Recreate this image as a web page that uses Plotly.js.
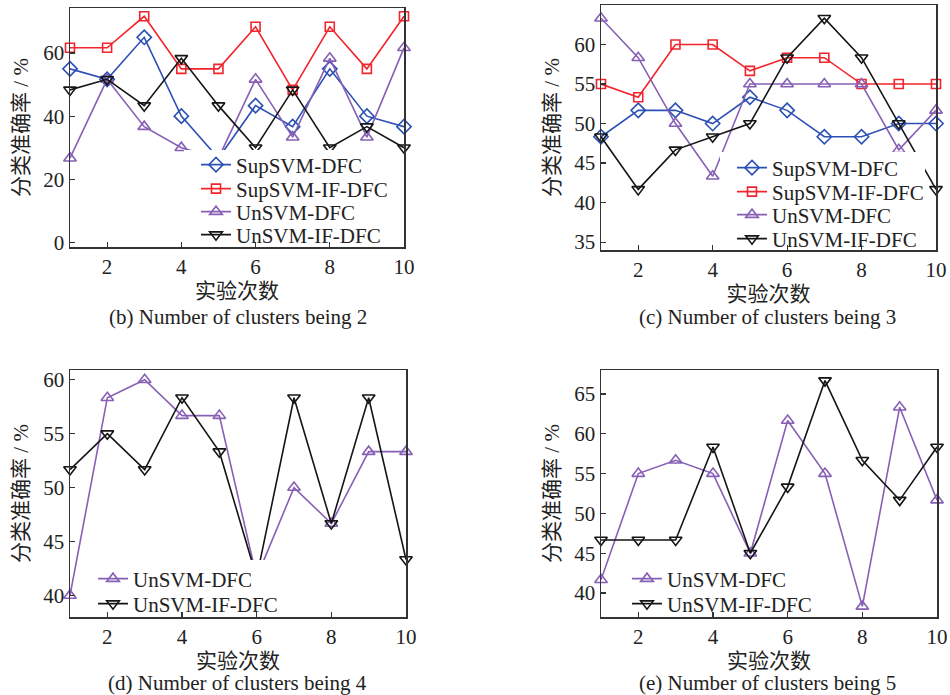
<!DOCTYPE html>
<html>
<head>
<meta charset="utf-8">
<script src="https://cdn.plot.ly/plotly-3.0.1.min.js"></script>
<style>html,body{margin:0;padding:0;background:#fff;}#chart{width:950px;height:695px;}</style>
</head>
<body>
<div id="chart"></div>
<script>
// ---------- data ----------
const runs = [1, 2, 3, 4, 5, 6, 7, 8, 9, 10];
const xTicks = [2, 4, 6, 8, 10];

// (b) clusters = 2
const b_SupSVM_DFC    = [55, 51.67, 65, 40, 26.67, 43.33, 36.67, 55, 40, 36.67];
const b_SupSVM_IF_DFC = [61.67, 61.67, 71.67, 55, 55, 68.33, 48.33, 68.33, 55, 71.67];
const b_UnSVM_DFC     = [26.67, 51.67, 36.67, 30, 26.67, 51.67, 33.33, 58.33, 33.33, 61.67];
const b_UnSVM_IF_DFC  = [48.33, 51.67, 43.33, 58.33, 43.33, 30, 48.33, 30, 36.67, 30];

// (c) clusters = 3
const c_SupSVM_DFC    = [48.33, 51.67, 51.67, 50, 53.33, 51.67, 48.33, 48.33, 50, 50];
const c_SupSVM_IF_DFC = [55, 53.33, 60, 60, 56.67, 58.33, 58.33, 55, 55, 55];
const c_UnSVM_DFC     = [63.33, 58.33, 50, 43.33, 55, 55, 55, 55, 46.67, 51.67];
const c_UnSVM_IF_DFC  = [48.33, 41.67, 46.67, 48.33, 50, 58.33, 63.33, 58.33, 50, 41.67];

// (d) clusters = 4
const d_UnSVM_DFC     = [40, 58.33, 60, 56.67, 56.67, 41.67, 50, 46.67, 53.33, 53.33];
const d_UnSVM_IF_DFC  = [51.67, 55, 51.67, 58.33, 53.33, 41.67, 58.33, 46.67, 58.33, 43.33];

// (e) clusters = 5
const e_UnSVM_DFC     = [41.67, 55, 56.67, 55, 45, 61.67, 55, 38.33, 63.33, 51.67];
const e_UnSVM_IF_DFC  = [46.67, 46.67, 46.67, 58.33, 45, 53.33, 66.67, 56.67, 51.67, 58.33];

const seriesNames = ['SupSVM-DFC', 'SupSVM-IF-DFC', 'UnSVM-DFC', 'UnSVM-IF-DFC'];
const xTitle = '实验次数';
const yTitle = '分类准确率 / %';
const captions = ['(b) Number of clusters being 2', '(c) Number of clusters being 3',
                  '(d) Number of clusters being 4', '(e) Number of clusters being 5'];

// ---------- styles ----------
const SERIF = 'Liberation Serif, Times New Roman, Noto Sans CJK SC, serif';
const CJK = 'Liberation Serif, Noto Sans CJK SC, serif';
const styles = {
  'SupSVM-DFC':    {color: '#2c50b4', symbol: 'diamond-open', size: 11},
  'SupSVM-IF-DFC': {color: '#f2242c', symbol: 'square-open', size: 9},
  'UnSVM-DFC':     {color: '#8760b5', symbol: 'triangle-up-open', size: 11},
  'UnSVM-IF-DFC':  {color: '#151515', symbol: 'triangle-down-open', size: 11}
};

const W = 950, H = 695;
const px = v => v / W, py = v => 1 - v / H;

// one legend box per entry so the row spacing can follow the reference
const legendDefs = {};
let legendCount = 0;
function legendFor(textLeft, rowCenter) {
  legendCount += 1;
  const id = legendCount === 1 ? 'legend' : 'legend' + legendCount;
  legendDefs[id] = {
    x: px(textLeft - 41), y: py(rowCenter - 18.5), xanchor: 'left', yanchor: 'top',
    bgcolor: 'rgba(0,0,0,0)', borderwidth: 0,
    font: {family: SERIF, size: 21, color: '#222'}
  };
  return id;
}

function tr(name, y, ax, textLeft, rowCenter) {
  const s = styles[name];
  return {
    x: runs, y: y, name: name, type: 'scatter', mode: 'lines+markers',
    xaxis: 'x' + ax, yaxis: 'y' + ax, legend: legendFor(textLeft, rowCenter), cliponaxis: false,
    line: {color: s.color, width: 1.6},
    marker: {symbol: s.symbol, size: s.size, color: s.color, line: {color: s.color, width: 1.6}}
  };
}

const data = [
  tr(seriesNames[0], b_SupSVM_DFC, '', 237, 163),
  tr(seriesNames[1], b_SupSVM_IF_DFC, '', 237, 187),
  tr(seriesNames[2], b_UnSVM_DFC, '', 237, 210),
  tr(seriesNames[3], b_UnSVM_IF_DFC, '', 237, 233),
  tr(seriesNames[0], c_SupSVM_DFC, '2', 773, 166),
  tr(seriesNames[1], c_SupSVM_IF_DFC, '2', 773, 190),
  tr(seriesNames[2], c_UnSVM_DFC, '2', 773, 213),
  tr(seriesNames[3], c_UnSVM_IF_DFC, '2', 773, 237),
  tr(seriesNames[2], d_UnSVM_DFC, '3', 134, 577),
  tr(seriesNames[3], d_UnSVM_IF_DFC, '3', 134, 602),
  tr(seriesNames[2], e_UnSVM_DFC, '4', 668, 577),
  tr(seriesNames[3], e_UnSVM_IF_DFC, '4', 668, 602)
];

function xax(l, r, anchor) {
  return {
    domain: [px(l), px(r)], anchor: anchor, range: [1, 10], tickvals: xTicks,
    ticks: 'inside', ticklen: 5, tickwidth: 1.2, tickcolor: '#333',
    showline: true, mirror: true, linecolor: '#333', linewidth: 1.5,
    showgrid: false, zeroline: false, automargin: false,
    tickfont: {family: SERIF, size: 21, color: '#222'},
    title: {text: xTitle, font: {family: CJK, size: 21, color: '#222'}, standoff: 2}
  };
}
function yax(t, b, anchor, range, dtick) {
  return {
    domain: [py(b), py(t)], anchor: anchor, range: range, dtick: dtick,
    ticks: 'inside', ticklen: 5, tickwidth: 1.2, tickcolor: '#333',
    showline: true, mirror: true, linecolor: '#333', linewidth: 1.5,
    showgrid: false, zeroline: false, automargin: false,
    tickfont: {family: SERIF, size: 21, color: '#222'},
    title: {text: yTitle, font: {family: CJK, size: 21, color: '#222'}, standoff: 9}
  };
}
function cap(text, cx, cy) {
  return {text: text, x: px(cx), y: py(cy), xref: 'paper', yref: 'paper',
          xanchor: 'center', yanchor: 'middle', showarrow: false,
          font: {family: SERIF, size: 21, color: '#222'}};
}
// white legend backgrounds (cover the lines as in the reference)
function bg(x0, y0, x1, y1) {
  return {type: 'rect', xref: 'paper', yref: 'paper', layer: 'above',
          x0: px(x0), x1: px(x1), y0: py(y1), y1: py(y0),
          fillcolor: '#ffffff', line: {width: 0}};
}

const layout = Object.assign({
  width: W, height: H, margin: {l: 0, r: 0, t: 0, b: 0},
  paper_bgcolor: '#fff', plot_bgcolor: '#fff', showlegend: true,
  xaxis: xax(70, 404, 'y'),  yaxis: yax(8, 247, 'x', [-1.5, 74.3], 20),
  xaxis2: xax(601, 936, 'y2'), yaxis2: yax(5, 250, 'x2', [34, 65], 5),
  xaxis3: xax(70, 406, 'y3'), yaxis3: yax(370, 617, 'x3', [38, 60.9], 5),
  xaxis4: xax(601, 937, 'y4'), yaxis4: yax(370, 617, 'x4', [37, 68], 5),
  shapes: [
    bg(184, 150, 396, 240),
    bg(720, 152, 925, 243),
    bg(82, 560, 284, 610),
    bg(616, 561, 817, 610)
  ],
  annotations: [
    cap(captions[0], 237.5, 317),
    cap(captions[1], 767, 317),
    cap(captions[2], 237.5, 683),
    cap(captions[3], 767, 683)
  ]
}, legendDefs);

Plotly.newPlot('chart', data, layout, {staticPlot: true, displayModeBar: false});
</script>
</body>
</html>
